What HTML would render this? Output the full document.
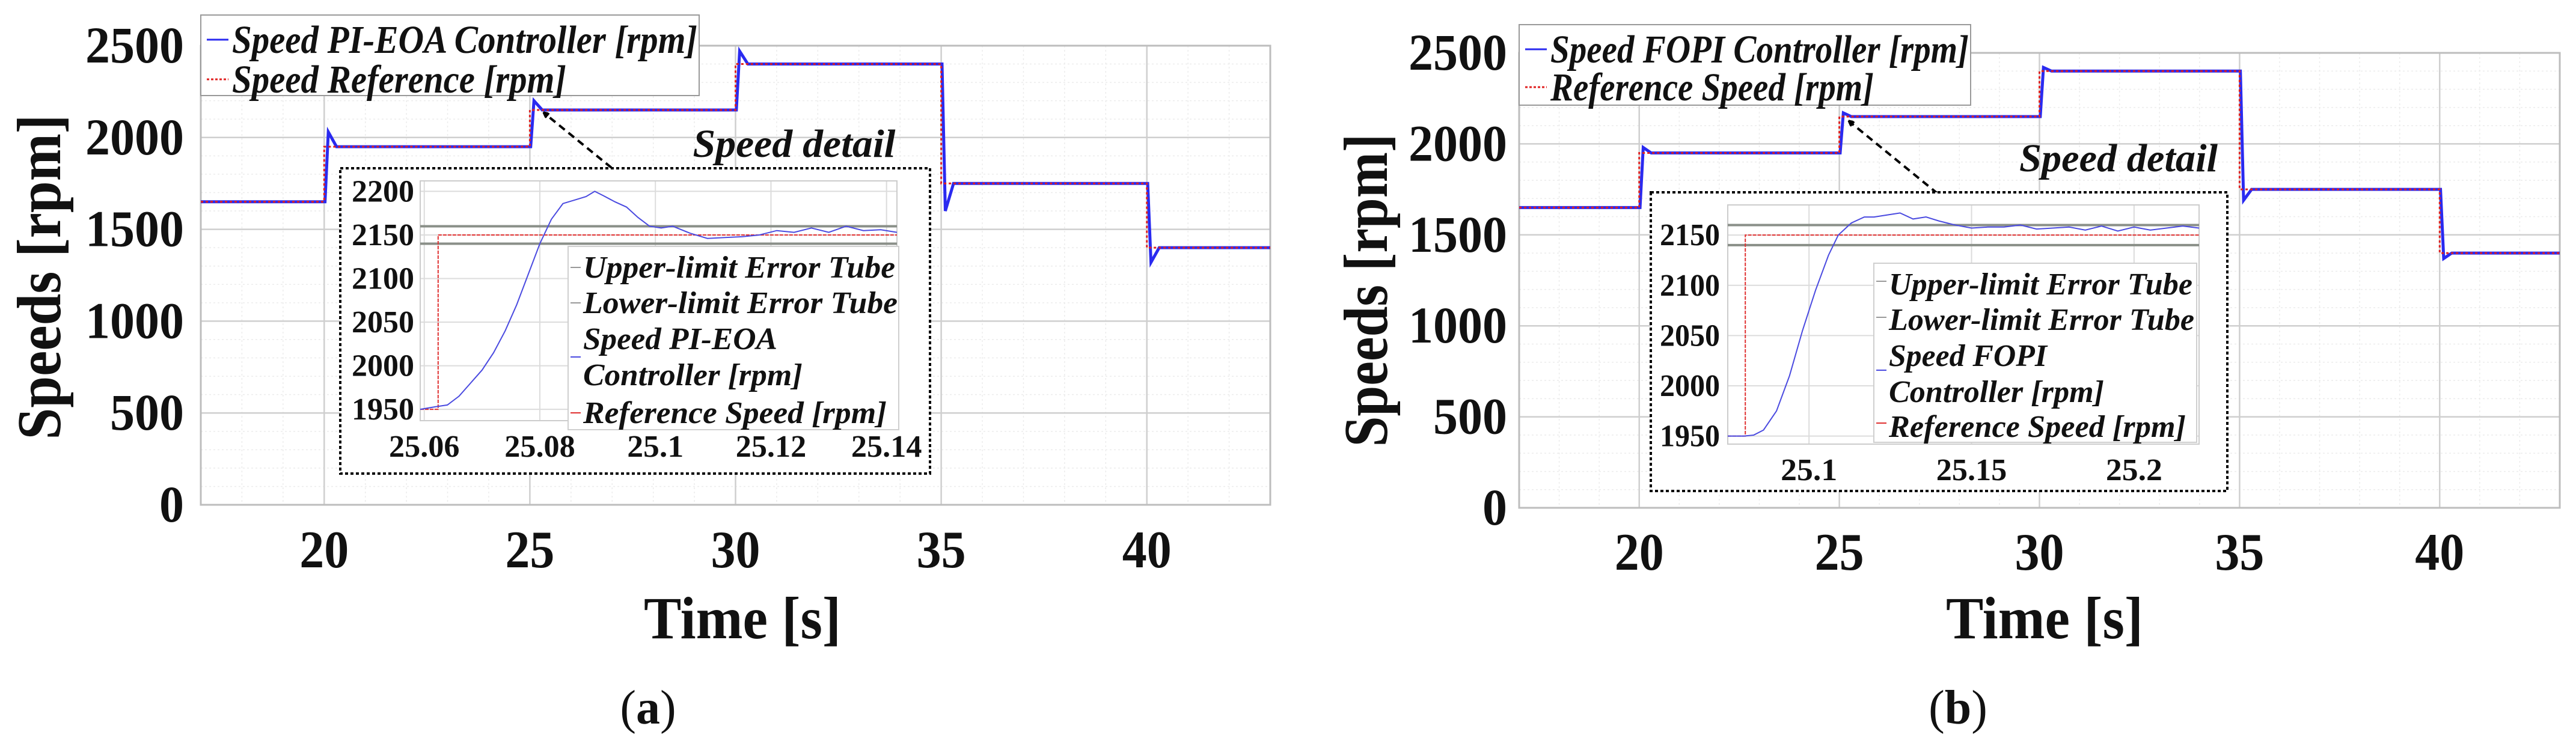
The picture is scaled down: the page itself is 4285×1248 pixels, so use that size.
<!DOCTYPE html>
<html><head><meta charset="utf-8"><style>
html,body{margin:0;padding:0;background:#fff;}
svg{display:block;}
text{font-family:"Liberation Serif",serif;fill:#111;}
</style></head><body>
<svg id="fig" width="4285" height="1248" viewBox="0 0 4285 1248" xmlns="http://www.w3.org/2000/svg">
<defs><marker id="ah" markerWidth="10" markerHeight="10" refX="8" refY="5" orient="auto" markerUnits="userSpaceOnUse"><path d="M0,0 L10,5 L0,10 z" fill="#000" transform="scale(2.6) translate(-5,-3)"/></marker></defs>
</svg>
<script>
// ---------- data ----------
const stepTimes = [17, 20, 25, 30, 35, 40, 43];
const refLevels = [1650, 1950, 2150, 2400, 1750, 1400];
const peaksA = [2030, 2200, 2470, 1600, 1320];
const peaksB = [1980, 2170, 2420, 1690, 1370];
const mainXTicks = [20, 25, 30, 35, 40];
const mainXLabels = ["20", "25", "30", "35", "40"];
const mainYTicks = [0, 500, 1000, 1500, 2000, 2500];
const mainYLabels = ["0", "500", "1000", "1500", "2000", "2500"];

const insetATime = [25.0593,25.062,25.064,25.066,25.068,25.070,25.072,25.074,25.076,25.078,25.080,25.082,25.084,25.086,25.088,25.0895,25.091,25.093,25.095,25.097,25.099,25.101,25.103,25.106,25.109,25.112,25.115,25.118,25.121,25.124,25.127,25.130,25.133,25.136,25.139,25.1418];
const insetASpeed = [1950,1953,1955,1965,1980,1995,2015,2040,2070,2105,2140,2168,2186,2190,2194,2200,2195,2188,2182,2170,2160,2158,2160,2152,2146,2147,2148,2150,2155,2153,2158,2153,2160,2155,2156,2153];
const insetARefT = [25.0593, 25.0624, 25.0624, 25.1418];
const insetARefV = [1950, 1950, 2150, 2150];
const insetAXTicks = [25.06, 25.08, 25.1, 25.12, 25.14];
const insetAXLabels = ["25.06", "25.08", "25.1", "25.12", "25.14"];
const insetAYTicks = [1950, 2000, 2050, 2100, 2150, 2200];
const insetAYLabels = ["1950", "2000", "2050", "2100", "2150", "2200"];

const insetBTime = [25.075,25.08,25.083,25.086,25.09,25.094,25.098,25.102,25.106,25.109,25.113,25.117,25.12,25.124,25.128,25.132,25.136,25.14,25.145,25.15,25.155,25.16,25.165,25.17,25.175,25.18,25.185,25.19,25.195,25.2,25.205,25.21,25.215,25.22];
const insetBSpeed = [1950,1950,1951,1956,1975,2010,2055,2095,2130,2150,2162,2168,2168,2170,2172,2166,2168,2164,2160,2157,2158,2158,2160,2156,2157,2158,2155,2159,2154,2158,2155,2157,2159,2157];
const insetBRefT = [25.075, 25.0804, 25.0804, 25.22];
const insetBRefV = [1950, 1950, 2150, 2150];
const insetBXTicks = [25.1, 25.15, 25.2];
const insetBXLabels = ["25.1", "25.15", "25.2"];
const insetBYTicks = [1950, 2000, 2050, 2100, 2150];
const insetBYLabels = ["1950", "2000", "2050", "2100", "2150"];
const tubeLevels = [2160, 2140];

// ---------- helpers ----------
const NS = "http://www.w3.org/2000/svg";
const svg = document.getElementById("fig");
function mk(tag, attrs, parent) {
  const e = document.createElementNS(NS, tag);
  for (const k in attrs) e.setAttribute(k, attrs[k]);
  (parent || svg).appendChild(e);
  return e;
}
function txt(s, attrs, parent) { const e = mk("text", attrs, parent); e.textContent = s; return e; }
function scale(d0, d1, r0, r1) { return v => r0 + (v - d0) / (d1 - d0) * (r1 - r0); }

function mainPanel(c) {
  const g = mk("g", {});
  
  
  const X = scale(17, 43, c.x0, c.x1), Y = scale(0, 2500, c.y1, c.y0);
  for (let v = 100; v < 2600; v += 100) {
    if (v % 500 === 0) continue;
    const l = mk("line", {x1:c.x0, x2:c.x1, y1:Y(v), y2:Y(v), stroke:"#ececec", "stroke-width":1.5, "stroke-dasharray":"3,4"}, g);
    
    
  }
  for (let t = 18; t < 43; t++) {
    if (t % 5 === 0) continue;
    const l = mk("line", {x1:X(t), x2:X(t), y1:c.y0, y2:c.y1, stroke:"#ececec", "stroke-width":1.5, "stroke-dasharray":"3,4"}, g);
    
    
  }
  mainYTicks.forEach((v, i) => {
    const l = mk("line", {x1:c.x0, x2:c.x1, y1:Y(v), y2:Y(v), stroke:"#cfcfcf", "stroke-width":2.5}, g);
    
    
    const t = txt(mainYLabels[i], {x:c.x0 - c.ylabGap, y:Y(v) + 28, "text-anchor":"end", "font-size":86, "font-weight":"bold", textLength:mainYLabels[i].length * 41, lengthAdjust:"spacingAndGlyphs"}, g);
    
    
  });
  mainXTicks.forEach((v, i) => {
    const l = mk("line", {x1:X(v), x2:X(v), y1:c.y0, y2:c.y1, stroke:"#cfcfcf", "stroke-width":2.5}, g);
    
    
    const t = txt(mainXLabels[i], {x:X(v), y:c.xlabY + 4, "text-anchor":"middle", "font-size":88, "font-weight":"bold", textLength:mainXLabels[i].length * 41, lengthAdjust:"spacingAndGlyphs"}, g);
    
    
  });
  const frame = mk("rect", {x:c.x0, y:c.y0, width:c.x1 - c.x0, height:c.y1 - c.y0, fill:"none", stroke:"#bdbdbd", "stroke-width":3}, g);
  
  
  let rp = [];
  for (let i = 0; i < refLevels.length; i++) { rp.push([X(stepTimes[i]), Y(refLevels[i])], [X(stepTimes[i + 1]), Y(refLevels[i])]); }
  let sp = [[X(stepTimes[0]), Y(refLevels[0])]];
  for (let i = 1; i < refLevels.length; i++) {
    const t = stepTimes[i];
    sp.push([X(t + 0.02), Y(refLevels[i - 1])], [X(t + 0.1), Y(c.peaks[i - 1])], [X(t + 0.3), Y(refLevels[i])], [X(stepTimes[i + 1]), Y(refLevels[i])]);
  }
  const bl = mk("polyline", {points:sp.map(p => p.join(",")).join(" "), fill:"none", stroke:"#2a2af0", "stroke-width":5}, g);
  
  
  const rl = mk("polyline", {points:rp.map(p => p.join(",")).join(" "), fill:"none", stroke:"#e02020", "stroke-width":3, "stroke-dasharray":"4,4"}, g);
  
  
  const lg = mk("g", {}, g);
  
  
  const lb = mk("rect", {x:c.leg[0], y:c.leg[1], width:c.leg[2] - c.leg[0], height:c.leg[3] - c.leg[1], fill:"#fff", stroke:"#999", "stroke-width":2}, lg);
  
  
  c.legItems.forEach((it, i) => {
    const yy = c.legY[i];
    const ln = mk("line", {x1:c.leg[0] + 10, x2:c.legTx - 6, y1:yy - 18, y2:yy - 18, stroke:i ? "#e02020" : "#2a2af0", "stroke-width":3, "stroke-dasharray":i ? "4,3" : "none"}, lg);
    
    
    const t = txt(it[0], {x:c.legTx, y:yy + 4, "font-size":66, "font-style":"italic", "font-weight":"bold", textLength:it[1], lengthAdjust:"spacingAndGlyphs"}, lg);
    
    
  });
  const yt = txt("Speeds [rpm]", {x:0, y:0, transform:`translate(${c.ytX},${c.ytY}) rotate(-90)`, "text-anchor":"middle", "font-size":104, "font-weight":"bold", textLength:c.ytLen, lengthAdjust:"spacingAndGlyphs"}, g);
  
  
  const xt = txt("Time [s]", {x:c.xtX, y:1062, "text-anchor":"middle", "font-size":100, "font-weight":"bold", textLength:328, lengthAdjust:"spacingAndGlyphs"}, g);
  
  
  const cap = mk("text", {x:c.capX, y:1204, "text-anchor":"middle", "font-size":80}, g);
  cap.innerHTML = '(<tspan font-weight="bold">' + c.cap + '</tspan>)';
  
  
  const sd = txt("Speed detail", {x:c.sd[0], y:c.sd[1] + 22, "text-anchor":"middle", "font-size":66, "font-style":"italic", "font-weight":"bold", textLength:c.sd[2], lengthAdjust:"spacingAndGlyphs"}, g);
  
  
  const ar = mk("line", {x1:c.arrow[0], y1:c.arrow[1], x2:c.arrow[2], y2:c.arrow[3], stroke:"#000", "stroke-width":4, "stroke-dasharray":"12,8", "marker-end":"url(#ah)"}, g);
  
  
  inset(c.inset, g);
}

function inset(c, parent) {
  const g = mk("g", {}, parent);
  
  
  const box = mk("rect", {x:c.box[0], y:c.box[1], width:c.box[2] - c.box[0], height:c.box[3] - c.box[1], fill:"#fff", stroke:"#000", "stroke-width":4, "stroke-dasharray":"5,4"}, g);
  
  
  const X = scale(c.xd[0], c.xd[1], c.ax[0], c.ax[2]), Y = scale(c.yd[0], c.yd[1], c.ax[3], c.ax[1]);
  c.yt.forEach((v, i) => {
    const l = mk("line", {x1:c.ax[0], x2:c.ax[2], y1:Y(v), y2:Y(v), stroke:"#dcdcdc", "stroke-width":2}, g);
    
    
    const t = txt(c.yl[i], {x:c.ylabR, y:Y(v) + 17, "text-anchor":"end", "font-size":52, "font-weight":"bold", textLength:c.ylabW, lengthAdjust:"spacingAndGlyphs"}, g);
    
    
  });
  c.xt.forEach((v, i) => {
    const l = mk("line", {x1:X(v), x2:X(v), y1:c.ax[1], y2:c.ax[3], stroke:"#dcdcdc", "stroke-width":2}, g);
    
    
    const t = txt(c.xl[i], {x:X(v), y:c.xlabY + 2, "text-anchor":"middle", "font-size":52, "font-weight":"bold", textLength:c.xl[i].length * 23.5, lengthAdjust:"spacingAndGlyphs"}, g);
    
    
  });
  const fr = mk("rect", {x:c.ax[0], y:c.ax[1], width:c.ax[2] - c.ax[0], height:c.ax[3] - c.ax[1], fill:"none", stroke:"#cccccc", "stroke-width":2}, g);
  
  
  tubeLevels.forEach(v => {
    const l = mk("line", {x1:c.ax[0], x2:c.ax[2], y1:Y(v), y2:Y(v), stroke:"#8a8f88", "stroke-width":4}, g);
    
    
  });
  const rp = c.refT.map((t, i) => X(t) + "," + Y(c.refV[i])).join(" ");
  const rl = mk("polyline", {points:rp, fill:"none", stroke:"#e03030", "stroke-width":2, "stroke-dasharray":"6,2"}, g);
  
  
  const sp = c.t.map((t, i) => X(t) + "," + Y(c.v[i])).join(" ");
  const sl = mk("polyline", {points:sp, fill:"none", stroke:"#4a4ae0", "stroke-width":2}, g);
  
  
  const lg = mk("rect", {x:c.leg[0], y:c.leg[1], width:c.leg[2] - c.leg[0], height:c.leg[3] - c.leg[1], fill:"#fff", stroke:"#cfcfcf", "stroke-width":2}, g);
  
  
  c.legItems.forEach((it, i) => {
    const t = txt(it[0], {x:c.legTx, y:c.legY[i] + 17, "font-size":52, "font-style":"italic", "font-weight":"bold", textLength:it[1], lengthAdjust:"spacingAndGlyphs"}, g);
    
    
  });
  c.swY.forEach((y, i) => {
    const l = mk("line", {x1:c.leg[0] + 4, x2:c.legTx - 4, y1:y, y2:y, stroke:["#999", "#999", "#4a4ae0", "#e03030"][i], "stroke-width":2}, g);
    
    
  });
}

mainPanel({
  name:"panel-a", x0:334, x1:2113, y0:76, y1:840, peaks:peaksA, ylabGap:28, xlabY:940,
  leg:[334, 25, 1163, 159], legTx:386, legY:[84, 150],
  legItems:[["Speed PI-EOA Controller [rpm]", 774], ["Speed Reference [rpm]", 556]],
  ytX:100, ytY:461, ytLen:541, xtX:1235, capX:1078, cap:"a",
  sd:[1321, 239, 337], arrow:[1017, 279, 905, 188],
  inset:{box:[566, 280, 1547, 788], ax:[699, 301, 1492, 700], xd:[25.0593, 25.1418], yd:[1937, 2212],
    xt:insetAXTicks, xl:insetAXLabels, yt:insetAYTicks, yl:insetAYLabels, ylabR:689, ylabW:104, xlabY:758,
    t:insetATime, v:insetASpeed, refT:insetARefT, refV:insetARefV,
    leg:[945, 410, 1495, 715], legTx:970, legY:[445, 504, 564, 624, 687], swY:[445, 504, 594, 687],
    legItems:[["Upper-limit Error Tube", 519], ["Lower-limit Error Tube", 523], ["Speed PI-EOA", 323], ["Controller [rpm]", 365], ["Reference Speed [rpm]", 505]]}
});
mainPanel({
  name:"panel-b", x0:2527, x1:4258, y0:88, y1:845, peaks:peaksB, ylabGap:20, xlabY:944,
  leg:[2527, 41, 3278, 175], legTx:2579, legY:[100, 163],
  legItems:[["Speed FOPI Controller [rpm]", 696], ["Reference Speed [rpm]", 538]],
  ytX:2307, ytY:483, ytLen:521, xtX:3401, capX:3257, cap:"b",
  sd:[3524, 263, 330], arrow:[3223, 322, 3076, 202],
  inset:{box:[2746, 320, 3705, 817], ax:[2874, 341, 3658, 739], xd:[25.075, 25.22], yd:[1942, 2180],
    xt:insetBXTicks, xl:insetBXLabels, yt:insetBYTicks, yl:insetBYLabels, ylabR:2861, ylabW:100, xlabY:797,
    t:insetBTime, v:insetBSpeed, refT:insetBRefT, refV:insetBRefV,
    leg:[3117, 438, 3654, 736], legTx:3142, legY:[473, 532, 592, 652, 710], swY:[468, 528, 616, 704],
    legItems:[["Upper-limit Error Tube", 505], ["Lower-limit Error Tube", 508], ["Speed FOPI", 263], ["Controller [rpm]", 358], ["Reference Speed [rpm]", 494]]}
});
</script>
</body></html>
